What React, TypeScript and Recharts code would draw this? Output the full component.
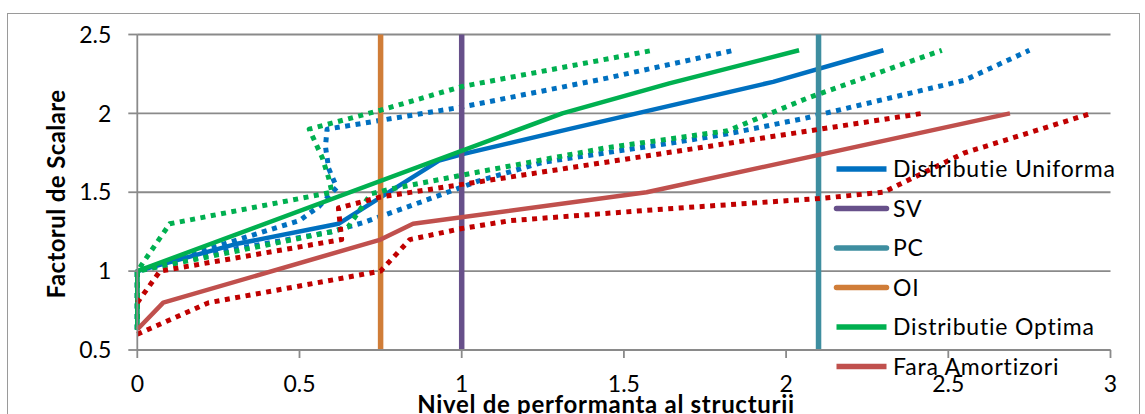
import { LineChart, Line, XAxis, YAxis, CartesianGrid } from "recharts";

type Pt = [number, number];

const W = 1145;
const H = 414;
const FONT = "Lato, 'Open Sans', sans-serif";

const X_TICKS = [0, 0.5, 1, 1.5, 2, 2.5, 3];
const Y_TICKS = [0.5, 1, 1.5, 2, 2.5];

// solid curves
const uniform: Pt[] = [[0, 0.63], [0, 1], [0.3, 1.17], [0.62, 1.3], [0.93, 1.7], [1.0, 1.74], [1.33, 1.9], [1.96, 2.2], [2.3, 2.4]];
const optimal: Pt[] = [[0, 0.63], [0, 1], [1.31, 2.0], [1.64, 2.19], [2.04, 2.4]];
const noDamper: Pt[] = [[0, 0.63], [0.08, 0.8], [0.75, 1.2], [0.85, 1.3], [1.57, 1.5], [2.69, 2.0]];

// dotted bounds around each curve
const uniformUpper: Pt[] = [[0, 0.63], [0, 1], [0.42, 1.27], [0.5, 1.32], [0.56, 1.41], [0.615, 1.53], [0.59, 1.65], [0.58, 1.79], [0.585, 1.9], [1.0, 2.04], [1.44, 2.22], [1.84, 2.4]];
const uniformLower: Pt[] = [[0, 0.63], [0, 1], [0.3, 1.14], [0.6, 1.25], [0.7, 1.31], [0.85, 1.42], [1.05, 1.57], [1.25, 1.69], [1.64, 1.81], [1.82, 1.87], [2.06, 1.97], [2.12, 2.0], [2.55, 2.21], [2.75, 2.4]];
const optimalUpper: Pt[] = [[0, 0.63], [0, 1], [0.1, 1.3], [0.6, 1.5], [0.59, 1.59], [0.57, 1.72], [0.53, 1.9], [0.75, 2.02], [1.0, 2.17], [1.59, 2.4]];
const optimalLower: Pt[] = [[0, 0.63], [0, 1], [0.6, 1.25], [0.65, 1.28], [0.72, 1.49], [0.78, 1.52], [1.03, 1.62], [1.44, 1.78], [1.82, 1.89], [2.07, 2.1], [2.48, 2.4]];
const noDamperUpper: Pt[] = [[0, 0.8], [0.07, 1.0], [0.63, 1.2], [0.62, 1.4], [0.75, 1.47], [2.42, 2.0]];
const noDamperLower: Pt[] = [[0, 0.6], [0.22, 0.8], [0.75, 1.0], [0.84, 1.2], [1.0, 1.27], [1.15, 1.32], [1.6, 1.39], [2.1, 1.46], [2.3, 1.5], [2.55, 1.75], [2.94, 2.0]];

// performance levels
const SV_X = 1.0;
const PC_X = 2.1;
const OI_X = 0.75;
const LEVEL_SPAN = [0.5, 2.5];

const BLUE = "#0070C0";
const GREEN = "#00B050";
const RED = "#C0504D";
const DARK_RED = "#C00000";
const PURPLE = "#67508A";
const TEAL = "#3E8EA0";
const ORANGE = "#D07D38";

const rows = (pts: Pt[]) => pts.map(([x, y]) => ({ x, y }));
const level = (x: number) => LEVEL_SPAN.map((y) => ({ x, y }));

interface Series {
  key: string;
  name?: string;
  color: string;
  data: { x: number; y: number }[];
  dotted?: boolean;
  round?: boolean;
}

// drawing order, back to front
const SERIES: Series[] = [
  { key: "uniform", name: "Distributie Uniforma", color: BLUE, data: rows(uniform) },
  { key: "uniformUpper", color: BLUE, data: rows(uniformUpper), dotted: true },
  { key: "uniformLower", color: BLUE, data: rows(uniformLower), dotted: true },
  { key: "sv", name: "SV", color: PURPLE, data: level(SV_X), round: true },
  { key: "pc", name: "PC", color: TEAL, data: level(PC_X), round: true },
  { key: "oi", name: "OI", color: ORANGE, data: level(OI_X), round: true },
  { key: "optimal", name: "Distributie Optima", color: GREEN, data: rows(optimal) },
  { key: "optimalUpper", color: GREEN, data: rows(optimalUpper), dotted: true },
  { key: "optimalLower", color: GREEN, data: rows(optimalLower), dotted: true },
  { key: "noDamper", name: "Fara Amortizori", color: RED, data: rows(noDamper) },
  { key: "noDamperUpper", color: DARK_RED, data: rows(noDamperUpper), dotted: true },
  { key: "noDamperLower", color: DARK_RED, data: rows(noDamperLower), dotted: true },
];

const LEGEND_ORDER = ["uniform", "sv", "pc", "oi", "optimal", "noDamper"];

const GRID = "#8a8a8a";

export default function App() {
  const legend = LEGEND_ORDER.map((k) => SERIES.find((s) => s.key === k)!);

  return (
    <div style={{ position: "absolute", left: 0, top: 0, width: W, height: H, background: "#fff", overflow: "hidden", fontFamily: FONT }}>
      <LineChart width={W} height={H} margin={{ top: 34.5, right: 34.5, bottom: 34, left: 0 }}>
        <CartesianGrid vertical={false} stroke={GRID} strokeWidth={1.8} />
        <XAxis
          dataKey="x" type="number" domain={[0, 3]} ticks={X_TICKS} height={30}
          axisLine={{ stroke: GRID, strokeWidth: 1.8 }} tickLine={{ stroke: GRID, strokeWidth: 1.8 }}
          tickSize={8} tickMargin={18}
          tick={{ fontSize: 23, fill: "#000", fontFamily: FONT }}
        />
        <YAxis
          type="number" domain={[0.5, 2.5]} ticks={Y_TICKS} width={137.3}
          axisLine={{ stroke: GRID, strokeWidth: 1.8 }} tickLine={{ stroke: GRID, strokeWidth: 1.8 }}
          tickSize={9} tickMargin={17}
          tick={{ fontSize: 23, fill: "#000", fontFamily: FONT }}
        />
        {SERIES.map((s) => (
          <Line
            key={s.key}
            data={s.data}
            dataKey="y"
            type="linear"
            stroke={s.color}
            strokeWidth={s.round ? 5.5 : s.dotted ? 5 : 4.5}
            strokeDasharray={s.dotted ? "5 5.5" : undefined}
            strokeLinejoin="round"
            dot={false}
            activeDot={false}
            legendType="none"
            isAnimationActive={false}
          />
        ))}
      </LineChart>

      <svg width={W} height={H} style={{ position: "absolute", left: 0, top: 0, pointerEvents: "none" }}>
        <rect x={7.5} y={13.5} width={1132} height={420} fill="none" stroke="#9a9a9a" strokeWidth={1} />
        <text x={65} y={194} transform="rotate(-90 65 194)" textAnchor="middle" fontSize={24} fontWeight="bold"
          fontFamily={FONT} letterSpacing={0.4}>
          Factorul de Scalare
        </text>
        <text x={606} y={413} textAnchor="middle" fontSize={24} fontWeight="bold" fontFamily={FONT} letterSpacing={0.7}>
          Nivel de performanta al structurii
        </text>
        {legend.map((s, i) => {
          const cy = 169 + i * 39.5;
          return (
            <g key={s.key}>
              <line x1={836.5} x2={886.5} y1={cy} y2={cy} stroke={s.color} strokeWidth={5.5}
                strokeLinecap={s.round ? "round" : "butt"} />
              <text x={893} y={cy} dy="0.36em" fontSize={23} fontFamily={FONT} letterSpacing={0.8}>{s.name}</text>
            </g>
          );
        })}
      </svg>
    </div>
  );
}
